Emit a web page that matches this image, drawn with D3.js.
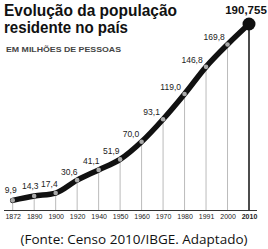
<!DOCTYPE html>
<html lang="pt">
<head>
<meta charset="utf-8">
<style>
  body { margin: 0; background: #fff; }
  svg { display: block; font-family: "Liberation Sans", Arial, sans-serif; }
</style>
</head>
<body>
<div id="chart"></div>
<script src="https://d3js.org/d3.v7.min.js"></script>
<script>
var years = ["1872", "1890", "1900", "1920", "1940", "1950", "1960", "1970", "1980", "1991", "2000", "2010"];
var population = [9.9, 14.3, 17.4, 30.6, 41.1, 51.9, 70.0, 93.1, 119.0, 146.8, 169.8, 190.755];
var valueLabels = ["9,9", "14,3", "17,4", "30,6", "41,1", "51,9", "70,0", "93,1", "119,0", "146,8", "169,8", "190,755"];

var W = 268, H = 249;
var svg = d3.select("#chart").append("svg").attr("width", W).attr("height", H);

var x = d3.scalePoint().domain(years).range([12.7, 249]);
var y = d3.scaleLinear().domain([0, 190.755]).range([210, 24]);

var data = years.map(function(d, i) { return { year: d, v: population[i], label: valueLabels[i] }; });
var last = data.length - 1;

// titles
svg.append("text").attr("x", 4).attr("y", 16)
    .attr("textLength", 173).attr("lengthAdjust", "spacingAndGlyphs")
    .style("font-size", "16px").style("font-weight", "bold").attr("fill", "#111")
    .text("Evolução da população");
svg.append("text").attr("x", 4).attr("y", 33)
    .attr("textLength", 124).attr("lengthAdjust", "spacingAndGlyphs")
    .style("font-size", "16px").style("font-weight", "bold").attr("fill", "#111")
    .text("residente no país");
svg.append("text").attr("x", 6).attr("y", 52)
    .attr("textLength", 115).attr("lengthAdjust", "spacingAndGlyphs")
    .style("font-size", "7.8px").style("font-weight", "bold").attr("fill", "#444")
    .text("EM MILHÕES DE PESSOAS");

// drop lines
svg.selectAll(".drop").data(data).enter().append("line")
    .attr("x1", function(d) { return x(d.year); })
    .attr("x2", function(d) { return x(d.year); })
    .attr("y1", function(d) { return y(d.v); })
    .attr("y2", y(0))
    .attr("stroke", function(d, i) { return i == last ? "#111" : "#bbb"; })
    .attr("stroke-width", function(d, i) { return i == last ? 1.5 : 1; });

// baseline + year labels
svg.append("line").attr("x1", 4).attr("x2", 257).attr("y1", y(0) + 0.5).attr("y2", y(0) + 0.5)
    .attr("stroke", "#333").attr("stroke-width", 1);

var axis = svg.append("g").attr("transform", "translate(0," + y(0) + ")")
    .call(d3.axisBottom(x).tickSize(0).tickPadding(4));
axis.select(".domain").remove();
axis.selectAll("text")
    .style("font-size", "7px").style("font-family", "'Liberation Sans', Arial, sans-serif").attr("fill", "#222")
    .style("font-weight", function(d) { return d == "2010" ? "bold" : "normal"; });

// line
var line = d3.line().x(function(d) { return x(d.year); }).y(function(d) { return y(d.v); })
    .curve(d3.curveMonotoneX);
svg.append("path").datum(data).attr("d", line)
    .attr("fill", "none").attr("stroke", "#111").attr("stroke-width", 5.5)
    .attr("stroke-linecap", "round").attr("stroke-linejoin", "round");

// points
svg.selectAll(".pt").data(data.slice(0, last)).enter().append("circle")
    .attr("cx", function(d) { return x(d.year); })
    .attr("cy", function(d) { return y(d.v); })
    .attr("r", 2.3).attr("fill", "#aaa");
svg.append("circle").attr("cx", x(data[last].year)).attr("cy", y(data[last].v))
    .attr("r", 6.5).attr("fill", "#111");

// value labels, pushed left/down where the line is steep
function slopeSin(i) {
  var a = data[Math.max(0, i - 1)], b = data[Math.min(last, i + 1)];
  var dx = x(b.year) - x(a.year), dy = y(a.v) - y(b.v);
  return dy / Math.sqrt(dx * dx + dy * dy);
}
svg.selectAll(".vl").data(data.slice(0, last)).enter().append("text")
    .attr("x", function(d, i) { return x(d.year) + 6.5 - 13 * slopeSin(i); })
    .attr("y", function(d, i) { return y(d.v) - 8.5 + 6 * slopeSin(i); })
    .attr("text-anchor", "end")
    .style("font-size", "8.5px").attr("fill", "#222")
    .text(function(d) { return d.label; });
svg.append("text").attr("x", 246).attr("y", 14).attr("text-anchor", "middle")
    .style("font-size", "11.5px").style("font-weight", "bold").attr("fill", "#111")
    .text(data[last].label);

// source
svg.append("text").attr("x", 134).attr("y", 244).attr("text-anchor", "middle")
    .attr("textLength", 227).attr("lengthAdjust", "spacingAndGlyphs")
    .style("font-family", "'Open Sans', sans-serif").style("font-size", "13px").attr("fill", "#111")
    .text("(Fonte: Censo 2010/IBGE. Adaptado)");
</script>
</body>
</html>
